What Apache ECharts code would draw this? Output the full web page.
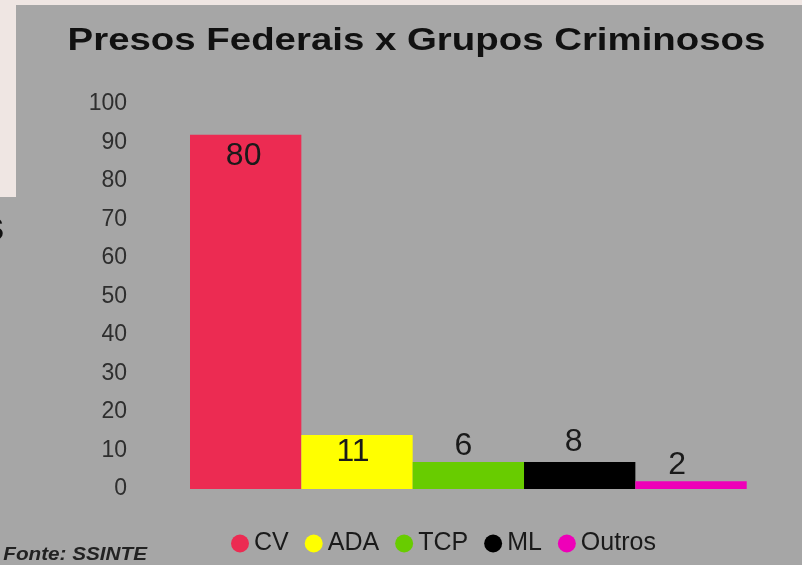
<!DOCTYPE html>
<html>
<head>
<meta charset="utf-8">
<script src="https://cdn.jsdelivr.net/npm/echarts@6/dist/echarts.min.js"></script>
<style>
html,body{margin:0;padding:0;background:#a6a6a6;}
#chart{width:802px;height:565px;}
</style>
</head>
<body>
<div id="chart"></div>
<script>
const categories = ['CV', 'ADA', 'TCP', 'ML', 'Outros'];
const barValues = [92, 14, 7, 7, 2];
const barLabels = ['80', '11', '6', '8', '2'];
const yTicks = [0, 10, 20, 30, 40, 50, 60, 70, 80, 90, 100];

const colors = ['#ec2b52', '#ffff00', '#68cc00', '#000000', '#ee00b8'];
const labelStyles = [
  { position: 'insideTop', distance: 5, offset: [-2, 0] },
  { position: 'insideTop', distance: 1, offset: [-4, 0] },
  { position: 'top', distance: 0, offset: [-5, 0] },
  { position: 'top', distance: 4, offset: [-6, 0] },
  { position: 'top', distance: 0, offset: [-14, 0] }
];
const FONT = '"Liberation Sans", Arial, sans-serif';

const chart = echarts.init(document.getElementById('chart'), null, { renderer: 'canvas' });

const series = categories.map((name, i) => ({
  name: name,
  type: 'bar',
  stack: 'all',
  barCategoryGap: '0%',
  barWidth: '100%',
  itemStyle: { color: colors[i] },
  data: categories.map((c, j) => (j === i ? barValues[i] : '-')),
  label: {
    show: true,
    position: labelStyles[i].position,
    distance: labelStyles[i].distance,
    offset: labelStyles[i].offset,
    formatter: () => barLabels[i],
    fontSize: 32,
    fontFamily: FONT,
    color: '#1a1a1a'
  },
  emphasis: { disabled: true }
}));

chart.setOption({
  backgroundColor: '#a6a6a6',
  animation: false,
  grid: { left: 190, right: 55.3, top: 104, bottom: 76 },
  xAxis: {
    type: 'category',
    data: categories,
    axisLine: { show: false },
    axisTick: { show: false },
    axisLabel: { show: false },
    splitLine: { show: false }
  },
  yAxis: {
    type: 'value',
    min: yTicks[0],
    max: yTicks[yTicks.length - 1],
    interval: yTicks[1] - yTicks[0],
    axisLine: { show: false },
    axisTick: { show: false },
    splitLine: { show: false },
    axisLabel: { fontSize: 23, color: '#2e2e2e', fontFamily: FONT, margin: 63 }
  },
  legend: {
    data: categories,
    icon: 'circle',
    itemWidth: 18,
    itemHeight: 18,
    itemGap: 16,
    left: 231,
    top: 531,
    padding: 0,
    selectedMode: false,
    textStyle: { fontSize: 25, color: '#1a1a1a', fontFamily: FONT }
  },
  graphic: [
    { type: 'rect', z: -10, shape: { x: 0, y: 0, width: 16, height: 197 }, style: { fill: '#efe6e3' }, silent: true },
    { type: 'rect', z: -10, shape: { x: 0, y: 0, width: 802, height: 5 }, style: { fill: '#efe6e3' }, silent: true },
    {
      type: 'text', x: 416.5, y: 41, scaleX: 1.2, silent: true,
      style: {
        text: 'Presos Federais x Grupos Criminosos',
        font: 'bold 32px ' + FONT,
        fill: '#111111',
        align: 'center', verticalAlign: 'middle',
        textAlign: 'center', textVerticalAlign: 'middle'
      }
    },
    {
      type: 'text', x: 4, y: 231, silent: true,
      style: {
        text: 'S', font: 'bold 31px ' + FONT, fill: '#111111',
        align: 'right', verticalAlign: 'middle',
        textAlign: 'right', textVerticalAlign: 'middle'
      }
    },
    {
      type: 'text', x: 147, y: 555, scaleX: 1.15, silent: true,
      style: {
        text: 'Fonte: SSINTE', font: 'italic bold 18px ' + FONT, fill: '#222222',
        align: 'right', verticalAlign: 'middle',
        textAlign: 'right', textVerticalAlign: 'middle'
      }
    }
  ],
  series: series
});
</script>
</body>
</html>
